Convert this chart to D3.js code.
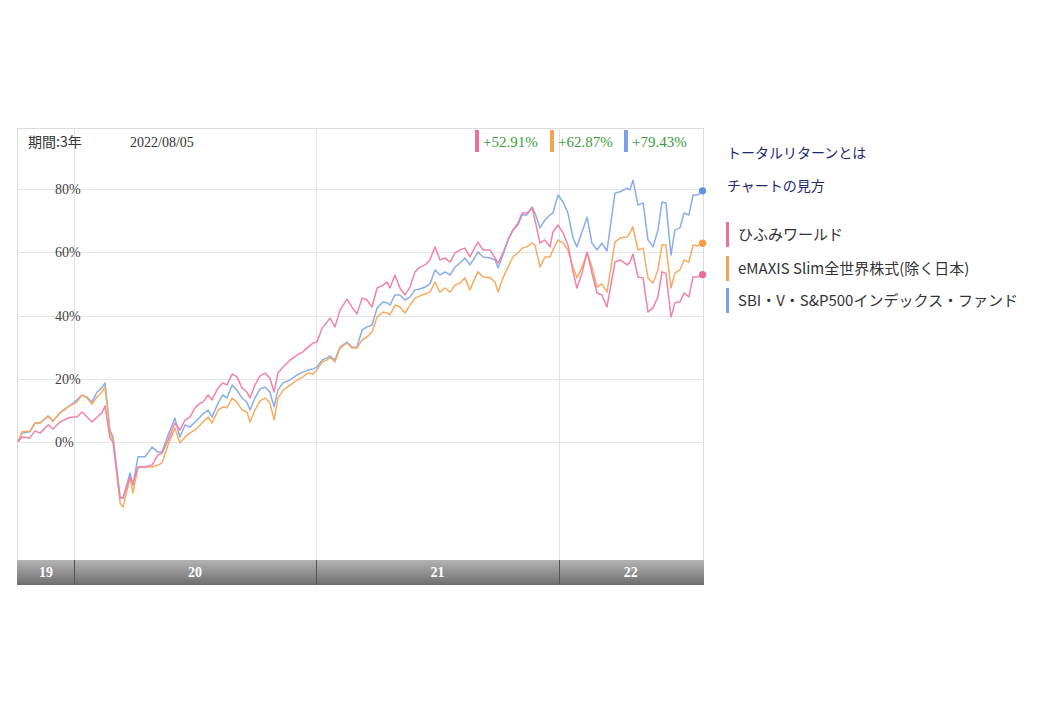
<!DOCTYPE html>
<html><head><meta charset="utf-8">
<script src="https://cdn.jsdelivr.net/npm/d3@7"></script>
<style>body{margin:0;background:#fff;} svg{display:block;}</style>
</head><body>
<svg id="c" width="1040" height="720"></svg>
<script>
// ---- data ----
const times = [
2019.770,2019.786,2019.819,2019.840,2019.861,2019.894,2019.914,2019.943,2019.976,2019.997,2020.013,2020.034,2020.055,2020.075,2020.096,2020.116,2020.129,2020.149,2020.162,2020.191,2020.203,2020.232,2020.244,2020.265,2020.294,2020.323,2020.347,2020.364,2020.389,2020.417,2020.438,2020.459,2020.479,2020.500,
2020.521,2020.533,2020.554,2020.570,2020.595,2020.615,2020.632,2020.653,2020.673,2020.694,2020.714,2020.727,2020.747,2020.768,2020.789,2020.809,2020.826,2020.842,2020.863,2020.892,2020.921,2020.945,2020.966,2020.987,2021.003,2021.024,2021.044,2021.057,2021.077,2021.098,2021.127,2021.147,2021.168,
2021.189,2021.209,2021.230,2021.251,2021.275,2021.292,2021.304,2021.325,2021.345,2021.366,2021.387,2021.407,2021.428,2021.449,2021.469,2021.490,2021.510,2021.531,2021.552,2021.572,2021.593,2021.613,2021.634,2021.655,2021.667,2021.688,2021.717,2021.737,2021.750,2021.770,2021.791,2021.811,2021.832,2021.849,2021.869,2021.890,2021.902,2021.923,2021.943,2021.964,
2021.976,2021.997,2022.018,2022.038,2022.059,2022.075,2022.096,2022.117,2022.137,2022.158,2022.178,2022.199,2022.232,2022.253,2022.282,2022.294,2022.306,2022.327,2022.348,2022.368,2022.389,2022.409,2022.426,2022.442,2022.463,2022.479,2022.500,2022.517,2022.537,2022.554,2022.574,2022.593];

const hifumi = [
0,1.6,1.3,3.5,2.8,5.4,4.1,6.3,7.6,7.9,7.9,9.5,7.9,6.3,7.9,9.2,11.4,1.3,0,-17.7,-17.7,-11.1,-13.0,-7.9,-7.9,-7.3,-4.1,-3.5,0.6,6.0,3.8,7.0,7.9,10.8,
12.3,12.6,14.9,13.3,17.1,18.7,18.0,21.5,20.6,17.1,15.8,13.9,18.0,20.9,21.8,20.2,15.8,21.8,23.7,25.9,27.5,28.5,30.0,31.3,31.6,36.0,37.9,39.2,36.4,41.7,45.2,42.7,40.5,
45.5,44.9,42.7,48.7,49.6,50.6,48.7,52.8,48.7,46.5,49.0,53.8,55.3,56.0,57.6,61.7,57.6,58.2,56.9,59.8,60.7,61.3,58.5,61.7,63.2,60.7,60.7,58.2,56.6,59.8,63.9,67.0,69.2,72.4,72.4,74.0,70.2,62.9,63.9,61.7,
66.4,68.6,66.1,62.3,53.8,48.7,53.4,60.1,53.4,47.1,46.5,42.7,56.9,57.6,56.0,56.9,59.4,52.2,51.9,41.1,42.4,45.9,53.8,53.4,39.5,44.0,44.3,47.1,45.9,52.2,52.2,52.91];

const emaxis = [
0,3.2,3.5,6.0,6.0,8.2,6.6,9.2,11.1,12.0,12.6,14.9,13.9,12.0,14.2,15.8,17.4,3.2,0.6,-19.3,-20.6,-11.4,-16.1,-7.9,-7.9,-7.9,-7.3,-6.6,-0.9,4.4,-0.3,1.6,2.8,3.8,
5.4,6.3,7.9,6.0,10.1,11.1,10.8,13.9,12.6,10.1,9.5,6.3,10.1,13.0,13.9,12.3,7.0,13.9,16.4,18.0,19.6,20.6,21.8,21.5,22.8,25.3,25.9,26.9,25.3,29.7,31.3,29.7,29.7,
32.3,33.2,34.8,39.5,41.1,40.8,40.2,43.3,42.7,40.8,43.3,45.5,46.2,46.8,47.4,50.6,47.4,48.7,47.4,49.6,50.3,51.9,48.1,51.9,53.8,52.2,51.9,50.6,47.4,51.9,55.3,58.5,59.8,61.3,61.7,62.9,62.3,55.3,58.5,58.5,
60.7,63.9,62.9,60.7,55.3,51.9,55.3,59.8,55.3,49.0,50.0,47.4,63.2,64.5,64.8,66.1,68.0,60.7,61.3,51.9,50.3,54.4,62.3,62.3,48.7,53.4,54.4,57.6,56.9,62.3,62.0,62.87];

const sbi = [
0,2.8,3.2,6.0,6.0,8.2,6.6,9.2,11.1,12.3,13.3,14.9,14.2,12.6,15.8,17.1,18.7,3.8,1.6,-17.4,-17.7,-9.8,-13.6,-4.7,-4.7,-1.6,-3.2,-3.2,2.2,7.6,1.6,5.4,4.7,6.3,
7.9,8.9,10.1,7.9,12.3,14.9,13.9,18.0,16.4,13.9,12.6,10.1,13.9,16.8,17.4,15.8,11.1,16.4,18.7,19.6,21.2,22.1,22.8,23.1,23.7,25.9,26.6,27.2,25.9,30.0,31.6,30.0,30.0,
35.4,36.4,37.0,42.4,44.3,44.0,43.3,46.5,46.5,44.9,45.9,48.1,48.4,49.0,50.0,54.4,52.8,53.8,52.8,55.3,56.6,58.2,56.0,58.5,60.1,58.5,58.2,57.6,55.0,59.1,63.9,67.0,68.6,71.8,71.8,74.3,72.4,67.7,70.2,71.8,
72.4,78.1,75.9,72.4,64.5,61.7,66.4,71.1,62.9,60.7,62.9,60.4,78.7,79.1,80.3,79.7,82.8,74.9,75.6,63.9,61.7,67.0,75.9,75.6,59.1,67.0,67.7,72.4,71.8,78.1,78.1,79.43];

const seriesNames = ["ひふみワールド","eMAXIS Slim全世界株式(除く日本)","SBI・V・S&P500インデックス・ファンド"];
const returnsText = ["+52.91%","+62.87%","+79.43%"];
const yTicks = [0,20,40,60,80];
const yearBounds = [2020,2021,2022];
const yearLabels = ["19","20","21","22"];
const periodText = "期間:3年";
const dateText = "2022/08/05";
const links = ["トータルリターンとは","チャートの見方"];

// ---- drawing ----
const svg = d3.select("#c");
const L = 17, R = 704, T = 128, PB = 560, B = 585;
const x = d3.scaleLinear().domain([2019.77, 2022.595]).range([18, 703]);
const y = d3.scaleLinear().domain([0, 80]).range([442, 189]);
const lineCol = ["#f183a6","#f7aa62","#88acec"];
const dotCol = ["#ee6a96","#f59a45","#5f90e4"];
const barCol = ["#e8709a","#f2a252","#7aa0e6"];
const serif = "'Liberation Serif','DejaVu Serif',serif";
const jp = "'Noto Sans CJK JP','Noto Sans',sans-serif";

const defs = svg.append("defs");
const g = defs.append("linearGradient").attr("id","bar").attr("x1",0).attr("x2",0).attr("y1",0).attr("y2",1);
g.append("stop").attr("offset","0%").attr("stop-color","#b4b4b4");
g.append("stop").attr("offset","100%").attr("stop-color","#6e6e6e");
defs.append("clipPath").attr("id","clip").append("rect").attr("x",L).attr("y",T).attr("width",R-L).attr("height",PB-T);

svg.append("rect").attr("x",L+0.5).attr("y",T+0.5).attr("width",R-L-1).attr("height",B-T-1)
  .attr("fill","#fff").attr("stroke","#dcdcdc");

svg.selectAll(".vg").data(yearBounds).enter().append("line")
  .attr("x1",d=>Math.round(x(d))+0.5).attr("x2",d=>Math.round(x(d))+0.5)
  .attr("y1",T).attr("y2",PB).attr("stroke","#e2e2e2");

svg.selectAll(".hg").data(yTicks).enter().append("line")
  .attr("x1",L).attr("x2",R).attr("y1",d=>Math.round(y(d))+0.5).attr("y2",d=>Math.round(y(d))+0.5)
  .attr("stroke","#e6e6e6");

svg.selectAll(".yl").data(yTicks).enter().append("text")
  .attr("x",55).attr("y",d=>y(d)+5).text(d=>d+"%")
  .attr("font-family",serif).attr("font-size",14).attr("fill","#444");

svg.append("text").attr("x",28).attr("y",147).text(periodText)
  .attr("font-family",jp).attr("font-size",14).attr("fill","#333");
svg.append("text").attr("x",130).attr("y",147).text(dateText)
  .attr("font-family",serif).attr("font-size",14).attr("fill","#333");

const retX = [475, 550, 624];
retX.forEach((rx,i)=>{
  svg.append("rect").attr("x",rx).attr("y",130).attr("width",4).attr("height",22).attr("fill",barCol[i]);
  svg.append("text").attr("x",rx+8).attr("y",147).text(returnsText[i])
    .attr("font-family",serif).attr("font-size",15).attr("fill","#3b9b3b");
});

const series = [hifumi, emaxis, sbi];
const line = d3.line().x((d,i)=>x(times[i])).y(d=>y(d));
const plot = svg.append("g").attr("clip-path","url(#clip)");
[2,1,0].forEach(k=>{
  plot.append("path").attr("d",line(series[k])).attr("fill","none")
    .attr("stroke",lineCol[k]).attr("stroke-width",1.5).attr("stroke-linejoin","round");
});
[0,1,2].forEach(k=>{
  const n = series[k].length-1;
  svg.append("circle").attr("cx",x(times[n])).attr("cy",y(series[k][n])).attr("r",3.6).attr("fill",dotCol[k]);
});

svg.append("rect").attr("x",L).attr("y",PB).attr("width",R-L).attr("height",B-PB).attr("fill","url(#bar)");
const edges = [x.domain()[0], ...yearBounds, x.domain()[1]];
svg.selectAll(".ysep").data(yearBounds).enter().append("line")
  .attr("x1",d=>Math.round(x(d))+0.5).attr("x2",d=>Math.round(x(d))+0.5)
  .attr("y1",PB).attr("y2",B).attr("stroke","#555");
yearLabels.forEach((lab,i)=>{
  const cx = (Math.max(L, x(edges[i])) + Math.min(R, x(edges[i+1])))/2;
  svg.append("text").attr("x",cx).attr("y",PB+17).attr("text-anchor","middle").text(lab)
    .attr("font-family",serif).attr("font-size",14).attr("font-weight","bold").attr("fill","#fff");
});

svg.append("text").attr("x",727).attr("y",158).text(links[0])
  .attr("font-family",jp).attr("font-size",14).attr("fill","#1d2a70");
svg.append("text").attr("x",727).attr("y",191).text(links[1])
  .attr("font-family",jp).attr("font-size",14).attr("fill","#1d2a70");
const legY = [222, 256, 288];
seriesNames.forEach((nm,i)=>{
  svg.append("rect").attr("x",726).attr("y",legY[i]).attr("width",3).attr("height",25).attr("fill",barCol[i]);
  svg.append("text").attr("x",738).attr("y",legY[i]+18).text(nm)
    .attr("font-family",jp).attr("font-size",15).attr("fill","#333");
});
</script>
</body></html>
